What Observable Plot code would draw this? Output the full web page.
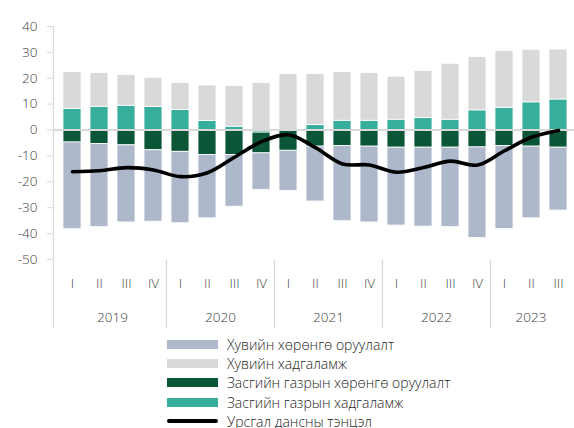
<!DOCTYPE html>
<html>
<head>
<meta charset="utf-8">
<script src="https://cdn.jsdelivr.net/npm/d3@7"></script>
<script src="https://cdn.jsdelivr.net/npm/@observablehq/plot@0.6"></script>
<style>
  html, body { margin: 0; padding: 0; background: #fff; overflow: hidden; }
  body { width: 574px; height: 428px; font-family: "Open Sans", sans-serif; }
  #chart svg { display: block; overflow: visible; font-weight: 300; }
  #chart svg [aria-label="y-axis tick"] { stroke: #d9d9d9; }
  #legend { margin-left: 167px; color: #262626; font-size: 14px; font-weight: 300; }
  .row { height: 19.2px; display: flex; align-items: center; }
  .sw { width: 51px; height: 9px; margin-right: 9px; flex: none; }
  .ln { width: 51px; height: 4px; border-radius: 2px; background: #000; margin-right: 9px; flex: none; }
</style>
</head>
<body>
<div id="chart"></div>
<div id="legend"></div>
<script>
// ---- data ----
const periodYears    = ["2019","2019","2019","2019","2020","2020","2020","2020","2021","2021","2021","2021","2022","2022","2022","2022","2023","2023","2023"];
const periodQuarters = ["I","II","III","IV","I","II","III","IV","I","II","III","IV","I","II","III","IV","I","II","III"];
const years = ["2019","2020","2021","2022","2023"];

const seriesNames = ["Хувийн хөрөнгө оруулалт", "Хувийн хадгаламж", "Засгийн газрын хөрөнгө оруулалт", "Засгийн газрын хадгаламж"];
const lineName = "Урсгал дансны тэнцэл";
const seriesColors = ["#adb9cb", "#d9d9d9", "#0a5637", "#37ad9b"];

const privateInvestment = [-33.5,-32.1,-29.8,-27.6,-27.6,-24.5,-20.0,-14.1,-15.5,-21.2,-29.0,-29.3,-30.1,-30.5,-30.7,-35.0,-32.0,-27.7,-24.3];
const privateSaving     = [14.3,13.0,11.9,11.3,10.5,13.7,15.7,18.2,21.6,19.7,18.8,18.5,16.6,18.2,21.6,20.6,21.9,20.3,19.3];
const govInvestment     = [-4.8,-5.4,-5.9,-7.8,-8.4,-9.6,-9.6,-8.0,-8.0,-6.4,-6.2,-6.4,-6.8,-6.8,-6.8,-6.7,-6.2,-6.4,-6.8];
const govSaving         = [8.1,9.0,9.4,8.9,7.7,3.5,1.3,-1.0,0.0,1.9,3.6,3.6,4.0,4.6,4.0,7.6,8.6,10.7,11.8];
const currentAccount    = [-16.1,-15.7,-14.5,-15.4,-18.0,-16.5,-10.5,-4.5,-1.8,-6.8,-13.1,-13.5,-16.3,-14.5,-12.0,-13.5,-8.0,-2.8,-0.2];
const yTicks = [-50,-40,-30,-20,-10,0,10,20,30,40];

// ---- tables ----
const keys = periodYears.map((y, i) => y + "-" + periodQuarters[i]);
const seriesValues = [privateInvestment, privateSaving, govInvestment, govSaving];
// stacking order: gov saving first so its rare negative value sits right under zero
const stackOrder = [3, 2, 0, 1];
const bars = [];
stackOrder.forEach(s => keys.forEach((k, i) => bars.push({key: k, series: seriesNames[s], value: seriesValues[s][i]})));
const line = keys.map((k, i) => ({key: k, value: currentAccount[i]}));
const qLabels = keys.map((k, i) => ({key: k, label: periodQuarters[i]}));

const textColor = "#404040";
const gridColor = "#d9d9d9";

// separators + year labels drawn from the x scale
const yearAxis = (index, scales, values, dimensions) => {
  const x = scales.x;
  const step = x(keys[1]) - x(keys[0]);
  const bw = typeof x.bandwidth === "function" ? x.bandwidth() : step * 0.67;
  const pad = (step - bw) / 2;
  const bottom = dimensions.height - dimensions.marginBottom;
  const g = d3.create("svg:g");
  g.append("line").attr("x1", dimensions.marginLeft + 0.5).attr("x2", dimensions.marginLeft + 0.5)
    .attr("y1", dimensions.marginTop).attr("y2", dimensions.height - 7)
    .attr("stroke", gridColor).attr("stroke-width", 1.3);
  years.forEach((yr, j) => {
    const ks = keys.filter((k, i) => periodYears[i] === yr);
    const left = x(ks[0]) - pad;
    const right = x(ks[ks.length - 1]) + bw + pad;
    if (j > 0) {
      g.append("line").attr("x1", left).attr("x2", left)
        .attr("y1", bottom + 1).attr("y2", dimensions.height - 7)
        .attr("stroke", gridColor).attr("stroke-width", 1.3);
    }
    g.append("text").attr("x", (left + right) / 2).attr("y", bottom + 59)
      .attr("text-anchor", "middle").attr("dominant-baseline", "middle")
      .attr("fill", textColor).attr("font-size", 13.5).text(yr);
  });
  return g.node();
};

const chart = Plot.plot({
  width: 574,
  height: 335,
  marginTop: 26,
  marginBottom: 76,
  marginLeft: 53,
  marginRight: -4,
  style: {fontFamily: "'Open Sans', sans-serif", fontSize: "13.5px", color: textColor, background: "white", overflow: "visible"},
  x: {domain: keys, padding: 0.32, axis: null},
  y: {domain: [-50, 40], axis: null},
  color: {domain: seriesNames, range: seriesColors},
  marks: [
    Plot.barY(bars, Plot.stackY({x: "key", y: "value", fill: "series", stroke: "white", strokeWidth: 0.8})),
    Plot.ruleY([0], {stroke: gridColor, strokeWidth: 2}),
    Plot.line(line, {x: "key", y: "value", curve: "catmull-rom", stroke: "black", strokeWidth: 3.6, strokeLinecap: "round"}),
    Plot.axisY({ticks: yTicks, tickSize: 6, tickPadding: 10, tickFormat: d => String(d), label: null, fill: textColor, fontSize: 13.5}),
    Plot.text(qLabels, {x: "key", text: "label", frameAnchor: "bottom", dy: 24, lineAnchor: "middle", fill: textColor, fontSize: 13.5}),
    yearAxis
  ]
});
document.getElementById("chart").appendChild(chart);

// legend
const legend = document.getElementById("legend");
seriesNames.forEach((name, i) => {
  const row = document.createElement("div");
  row.className = "row";
  row.innerHTML = `<span class="sw" style="background:${seriesColors[i]}"></span><span>${name}</span>`;
  legend.appendChild(row);
});
const lrow = document.createElement("div");
lrow.className = "row";
lrow.innerHTML = `<span class="ln"></span><span>${lineName}</span>`;
legend.appendChild(lrow);
</script>
</body>
</html>
